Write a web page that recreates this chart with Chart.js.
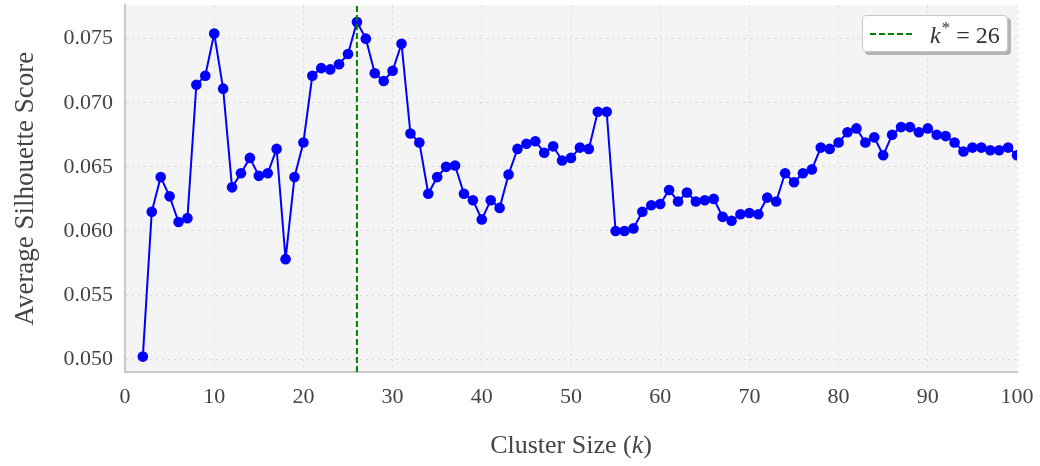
<!DOCTYPE html>
<html>
<head>
<meta charset="utf-8">
<script src="https://cdn.jsdelivr.net/npm/chart.js@4.4.1/dist/chart.umd.min.js"></script>
<style>
html,body{margin:0;padding:0;background:#fff;}
#wrap{position:relative;width:1040px;height:466px;}
#legend{position:absolute;left:862px;top:15px;width:144px;height:35px;background:#fff;border:1px solid #c8c8c8;border-radius:4px;box-shadow:3px 3px 0 #b4b4b4;font-family:'Liberation Serif',serif;font-size:24px;color:#333;display:flex;align-items:center;}
#legend svg{margin-left:7px;margin-right:16px;}
#legend sup{font-size:17px;position:relative;top:-1px;margin-left:1px;}
</style>
</head>
<body>
<div id="wrap">
  <canvas id="chart" width="1040" height="466"></canvas>
  <div id="legend">
    <svg width="44" height="4"><line x1="0" y1="2" x2="44" y2="2" stroke="#008000" stroke-width="2" stroke-dasharray="6,3"/></svg>
    <span><i>k</i><sup>*</sup> = 26</span>
  </div>
</div>
<script>
const kValues = [
  2, 3, 4, 5, 6, 7, 8, 9, 10, 11,
  12, 13, 14, 15, 16, 17, 18, 19, 20, 21,
  22, 23, 24, 25, 26, 27, 28, 29, 30, 31,
  32, 33, 34, 35, 36, 37, 38, 39, 40, 41,
  42, 43, 44, 45, 46, 47, 48, 49, 50, 51,
  52, 53, 54, 55, 56, 57, 58, 59, 60, 61,
  62, 63, 64, 65, 66, 67, 68, 69, 70, 71,
  72, 73, 74, 75, 76, 77, 78, 79, 80, 81,
  82, 83, 84, 85, 86, 87, 88, 89, 90, 91,
  92, 93, 94, 95, 96, 97, 98, 99, 100
];
const scores = [
  0.0502, 0.0615, 0.0642, 0.0627, 0.0607, 0.0610, 0.0714, 0.0721, 0.0754, 0.0711,
  0.0634, 0.0645, 0.0657, 0.0643, 0.0645, 0.0664, 0.0578, 0.0642, 0.0669, 0.0721,
  0.0727, 0.0726, 0.0730, 0.0738, 0.0763, 0.0750, 0.0723, 0.0717, 0.0725, 0.0746,
  0.0676, 0.0669, 0.0629, 0.0642, 0.0650, 0.0651, 0.0629, 0.0624, 0.0609, 0.0624,
  0.0618, 0.0644, 0.0664, 0.0668, 0.0670, 0.0661, 0.0666, 0.0655, 0.0657, 0.0665,
  0.0664, 0.0693, 0.0693, 0.0600, 0.0600, 0.0602, 0.0615, 0.0620, 0.0621, 0.0632,
  0.0623, 0.0630, 0.0623, 0.0624, 0.0625, 0.0611, 0.0608, 0.0613, 0.0614, 0.0613,
  0.0626, 0.0623, 0.0645, 0.0638, 0.0645, 0.0648, 0.0665, 0.0664, 0.0669, 0.0677,
  0.0680, 0.0669, 0.0673, 0.0659, 0.0675, 0.0681, 0.0681, 0.0677, 0.0680, 0.0675,
  0.0674, 0.0669, 0.0662, 0.0665, 0.0665, 0.0663, 0.0663, 0.0665, 0.0659
];
const bestK = 26;
const xTicks = [0, 10, 20, 30, 40, 50, 60, 70, 80, 90, 100];
const yTicks = [0.050, 0.055, 0.060, 0.065, 0.070, 0.075];
const yMin = 0.049, yMax = 0.0776;

const FONT = "'Liberation Serif', serif";

// grey plot area behind the grid
const plotBg = {
  id: 'plotBg',
  beforeDraw(chart){
    const {ctx, chartArea: a} = chart;
    ctx.save();
    ctx.fillStyle = '#f4f4f4';
    ctx.fillRect(a.left, a.top, a.right - a.left, a.bottom - a.top);
    ctx.restore();
  }
};

// x title with an italic k
const xTitle = {
  id: 'xTitle',
  afterDraw(chart){
    const {ctx, chartArea: a} = chart;
    const parts = [
      ['Cluster Size (', `26px ${FONT}`],
      ['k', `italic 26px ${FONT}`],
      [')', `26px ${FONT}`]
    ];
    ctx.save();
    let w = 0;
    for(const [t, f] of parts){ ctx.font = f; w += ctx.measureText(t).width; }
    let x = (a.left + a.right) / 2 - w / 2;
    const y = a.bottom + 74;
    ctx.fillStyle = '#444';
    ctx.textBaseline = 'middle';
    for(const [t, f] of parts){
      ctx.font = f;
      ctx.fillText(t, x, y);
      x += ctx.measureText(t).width;
    }
    ctx.restore();
  }
};

new Chart(document.getElementById('chart'), {
  type: 'line',
  data: {
    datasets: [
      {
        label: 'best k',
        data: [{x: bestK, y: yMin}, {x: bestK, y: yMax}],
        borderColor: '#008000',
        borderWidth: 2,
        borderDash: [6, 3],
        pointRadius: 0,
        order: 0
      },
      {
        label: 'score',
        data: kValues.map((k, i) => ({x: k, y: scores[i]})),
        borderColor: '#0000ff',
        backgroundColor: '#0000ff',
        borderWidth: 2,
        pointRadius: 5.3,
        pointBorderWidth: 0,
        tension: 0,
        order: 1
      }
    ]
  },
  options: {
    responsive: false,
    animation: false,
    devicePixelRatio: 1,
    layout: {padding: {left: 0, right: 23, top: 4, bottom: 0}},
    plugins: {legend: {display: false}, tooltip: {enabled: false}},
    scales: {
      x: {
        type: 'linear',
        min: 0, max: 100,
        afterBuildTicks: s => { s.ticks = xTicks.map(v => ({value: v})); },
        afterFit: s => { s.height = 94; s.paddingLeft = 0; s.paddingRight = 0; },
        ticks: {font: {family: FONT, size: 22}, color: '#444', padding: 12, maxRotation: 0},
        grid: {color: '#d8d8d8', lineWidth: 1, drawTicks: false},
        border: {display: true, color: '#c8c8c8', width: 2, dash: [2, 4]},
        title: {display: false}
      },
      y: {
        min: yMin, max: yMax,
        afterBuildTicks: s => { s.ticks = yTicks.map(v => ({value: v})); },
        afterFit: s => { s.width = 125; s.paddingTop = 0; s.paddingBottom = 0; },
        ticks: {font: {family: FONT, size: 22}, color: '#444', padding: 12, callback: v => v.toFixed(3)},
        grid: {color: '#d8d8d8', lineWidth: 1, drawTicks: false},
        border: {display: true, color: '#c8c8c8', width: 2, dash: [2, 4]},
        title: {display: true, text: 'Average Silhouette Score', font: {family: FONT, size: 27}, color: '#444', padding: {top: 10}}
      }
    }
  },
  plugins: [plotBg, xTitle]
});
</script>
</body>
</html>
